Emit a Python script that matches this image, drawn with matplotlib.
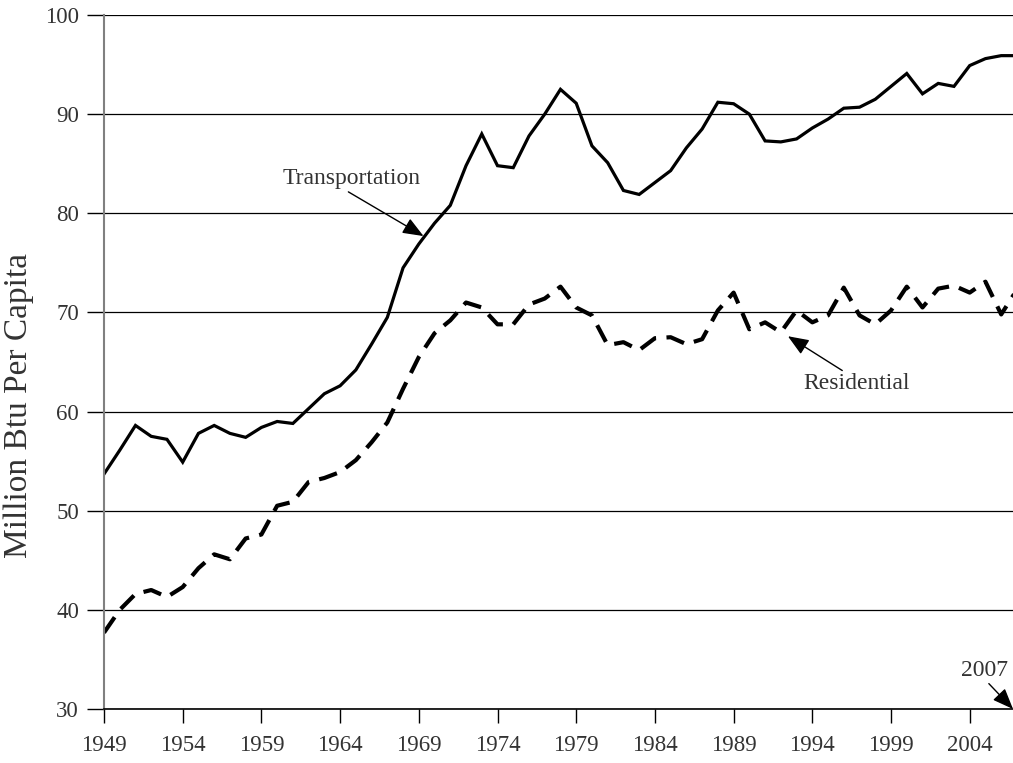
import matplotlib
matplotlib.use("Agg")
import matplotlib.pyplot as plt

years = list(range(1949, 2008))
transportation = [53.7, 56.1, 58.6, 57.5, 57.2, 54.9, 57.8, 58.6, 57.8, 57.4,
                  58.4, 59.0, 58.8, 60.3, 61.8, 62.6, 64.2, 66.8, 69.5, 74.5,
                  76.9, 79.0, 80.8, 84.8, 88.0, 84.8, 84.6, 87.8, 90.0, 92.5,
                  91.1, 86.8, 85.1, 82.3, 81.9, 83.1, 84.3, 86.6, 88.5, 91.2,
                  91.05, 90.0, 87.3, 87.2, 87.5, 88.6, 89.5, 90.6, 90.7, 91.5,
                  92.8, 94.1, 92.05, 93.1, 92.8, 94.9, 95.6, 95.9, 95.9]
residential = [37.7, 40.0, 41.6, 42.0, 41.3, 42.3, 44.2, 45.6, 45.1, 47.2,
               47.6, 50.5, 50.9, 52.9, 53.3, 53.9, 55.1, 56.9, 58.9, 62.3,
               65.5, 67.9, 69.2, 71.0, 70.5, 68.8, 68.8, 70.8, 71.4, 72.6,
               70.5, 69.7, 66.7, 67.0, 66.2, 67.4, 67.5, 66.8, 67.3, 70.2,
               72.0, 68.3, 69.0, 68.0, 70.2, 69.0, 69.7, 72.5, 69.7, 68.8,
               70.2, 72.6, 70.5, 72.4, 72.7, 72.0, 73.1, 69.8, 72.3]
xticks = list(range(1949, 2005, 5))
yticks = list(range(30, 101, 10))

serif = ["Liberation Serif", "DejaVu Serif"]
txt_color = "#333333"

fig = plt.figure(figsize=(10.13, 7.63), dpi=100)
ax = fig.add_axes([104/1013, 54/763, 909/1013, 694/763])

ax.plot(years, transportation, color="black", lw=2.3, solid_joinstyle="miter")
ax.plot(years, residential, color="black", lw=3.0, dashes=(4.5, 2.5))

ax.set_xlim(1949, 2006.75)
ax.set_ylim(30, 100)
ax.set_xticks(xticks)
ax.set_yticks(yticks)
ax.set_xticklabels([str(t) for t in xticks], fontfamily=serif, fontsize=16.5, color=txt_color)
ax.set_yticklabels([str(t) for t in yticks], fontfamily=serif, fontsize=16.5, color=txt_color)
ax.tick_params(axis="x", length=10, width=1, direction="out", pad=9, color="black")
ax.tick_params(axis="y", length=12, width=1, direction="out", pad=6, color="black")

ax.grid(axis="y", color="black", lw=0.9)
ax.set_axisbelow(True)
for s in ["top", "right"]:
    ax.spines[s].set_visible(False)
ax.spines["left"].set_color("#808080")
ax.spines["left"].set_linewidth(1.5)
ax.spines["bottom"].set_color("black")
ax.spines["bottom"].set_linewidth(1.2)

ax.set_ylabel("Million Btu Per Capita", fontfamily=serif, fontsize=24, color=txt_color)
ax.yaxis.set_label_coords(-70/909, 0.437)

arrow = dict(arrowstyle="-|>,head_length=0.75,head_width=0.3", color="black", lw=1,
             shrinkA=0, shrinkB=0)
ax.annotate("Transportation", xy=(1969.3, 77.7), xytext=(1964.7, 83.5),
            fontfamily=serif, fontsize=17, color=txt_color,
            ha="center", va="center", arrowprops=dict(arrow, relpos=(0.42, 0.1)))
ax.annotate("Residential", xy=(1992.45, 67.6), xytext=(1996.8, 62.8),
            fontfamily=serif, fontsize=17, color=txt_color,
            ha="center", va="center", arrowprops=dict(arrow, relpos=(0.44, 0.9)))
ax.annotate("2007", xy=(2006.75, 30.0), xytext=(2004.95, 33.9),
            fontfamily=serif, fontsize=17, color=txt_color,
            ha="center", va="center", annotation_clip=False,
            arrowprops=dict(arrow, relpos=(0.49, 0.1)))

fig.savefig("out.png", dpi=100)
